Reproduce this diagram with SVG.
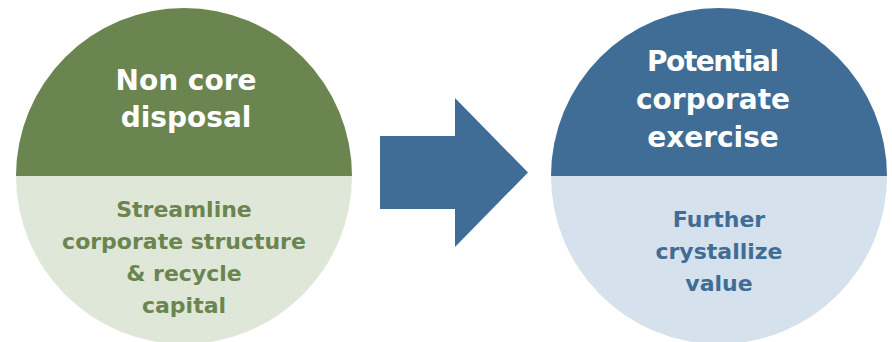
<svg xmlns="http://www.w3.org/2000/svg" width="892" height="342" viewBox="0 0 892 342">
  <style>
    text { font-family: "DejaVu Sans", "Liberation Sans", sans-serif; font-weight: bold; text-anchor: middle; }
    .title { font-size: 28px; fill: #ffffff; }
    .sub { font-size: 22px; }
    .green-dark { fill: #6A8550; }
    .green-light { fill: #DFE8D8; }
    .blue-dark { fill: #3F6D96; }
    .blue-light { fill: #D5E1EC; }
  </style>
  <defs>
    <clipPath id="clip-left"><circle cx="184" cy="176" r="168"/></clipPath>
    <clipPath id="clip-right"><circle cx="719" cy="176" r="168"/></clipPath>
  </defs>
  <rect width="892" height="342" fill="#ffffff"/>

  <g id="node-disposal">
    <g clip-path="url(#clip-left)">
      <rect class="green-dark" x="16" y="8" width="336" height="168"/>
      <rect class="green-light" x="16" y="176" width="336" height="168"/>
    </g>
    <text class="title" x="186" y="90">Non core</text>
    <text class="title" x="186" y="127">disposal</text>
    <text class="sub green-dark" x="184" y="217">Streamline</text>
    <text class="sub green-dark" x="184" y="249">corporate structure</text>
    <text class="sub green-dark" x="184" y="281">&amp; recycle</text>
    <text class="sub green-dark" x="184" y="313">capital</text>
  </g>

  <g id="connectors">
    <polygon class="blue-dark" points="380,136 455,136 455,98 528,172.5 455,247 455,209 380,209"/>
  </g>

  <g id="node-corporate">
    <g clip-path="url(#clip-right)">
      <rect class="blue-dark" x="551" y="8" width="336" height="168"/>
      <rect class="blue-light" x="551" y="176" width="336" height="168"/>
    </g>
    <text class="title" x="713" y="71" textLength="132" lengthAdjust="spacing">Potential</text>
    <text class="title" x="713" y="109">corporate</text>
    <text class="title" x="713" y="147">exercise</text>
    <text class="sub blue-dark" x="719" y="227">Further</text>
    <text class="sub blue-dark" x="719" y="259">crystallize</text>
    <text class="sub blue-dark" x="719" y="291">value</text>
  </g>
</svg>
